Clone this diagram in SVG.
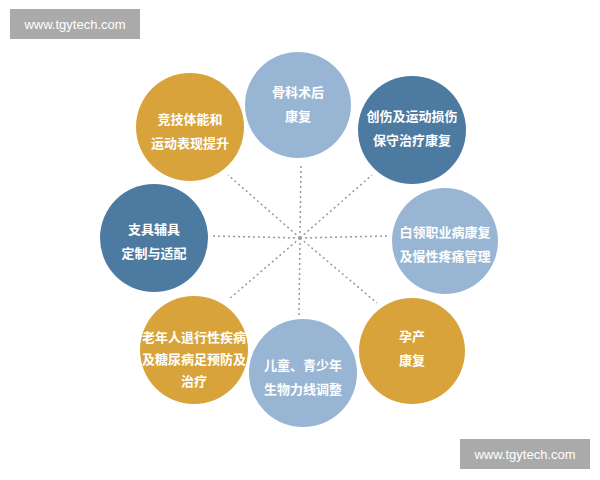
<svg xmlns="http://www.w3.org/2000/svg" width="600" height="480" viewBox="0 0 600 480">
<style>
.lb{fill:#98b6d4}.db{fill:#4d7aa0}.gd{fill:#d7a33a}
text{font-family:"Noto Sans CJK SC",sans-serif;font-size:13px;font-weight:bold;fill:#fff;text-anchor:middle}
.wm{font-family:"Liberation Sans",sans-serif;font-size:13px;font-weight:normal}
line{stroke:#999;stroke-width:1.5;stroke-dasharray:2 3}
</style>
<rect width="600" height="480" fill="#fff"/>
<g id="connectors">
<line x1="300" y1="238" x2="301" y2="164"/>
<line x1="300" y1="238" x2="299" y2="315"/>
<line x1="300" y1="238" x2="212" y2="236"/>
<line x1="300" y1="238" x2="387" y2="236"/>
<line x1="300" y1="238" x2="228" y2="175"/>
<line x1="300" y1="238" x2="372" y2="175"/>
<line x1="300" y1="238" x2="228" y2="300"/>
<line x1="300" y1="238" x2="377" y2="303"/>
</g>
<g id="n1"><circle class="lb" cx="298" cy="105" r="53"/><text x="298" y="97">骨科术后</text><text x="298" y="121">康复</text></g>
<g id="n2"><circle class="db" cx="412" cy="130" r="54"/><text x="412" y="121">创伤及运动损伤</text><text x="412" y="145">保守治疗康复</text></g>
<g id="n3"><circle class="lb" cx="445" cy="241" r="53"/><text x="445" y="237">白领职业病康复</text><text x="445" y="261">及慢性疼痛管理</text></g>
<g id="n4"><circle class="gd" cx="412" cy="351" r="53"/><text x="412" y="341">孕产</text><text x="412" y="365">康复</text></g>
<g id="n5"><circle class="lb" cx="303" cy="373" r="54"/><text x="303" y="370">儿童、青少年</text><text x="303" y="394">生物力线调整</text></g>
<g id="n6"><circle class="gd" cx="194" cy="350" r="54"/><text x="194" y="342">老年人退行性疾病</text><text x="194" y="364">及糖尿病足预防及</text><text x="194" y="386">治疗</text></g>
<g id="n7"><circle class="db" cx="154" cy="238" r="54"/><text x="154" y="234">支具辅具</text><text x="154" y="258">定制与适配</text></g>
<g id="n8"><circle class="gd" cx="190" cy="127" r="54"/><text x="190" y="124">竞技体能和</text><text x="190" y="148">运动表现提升</text></g>
<g id="wm1"><rect x="10" y="9" width="130" height="30" fill="#aaa"/><text class="wm" x="75" y="29">www.tgytech.com</text></g>
<g id="wm2"><rect x="460" y="439" width="130" height="30" fill="#aaa"/><text class="wm" x="525" y="459">www.tgytech.com</text></g>
</svg>
